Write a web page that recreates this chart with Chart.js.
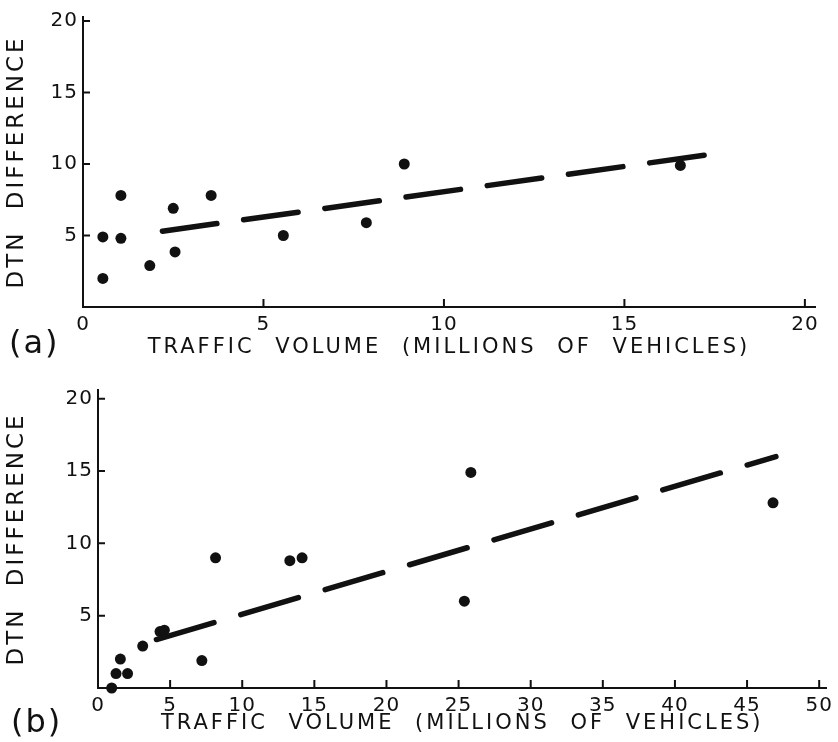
<!DOCTYPE html>
<html>
<head>
<meta charset="utf-8">
<script src="https://cdn.jsdelivr.net/npm/chart.js@4.4.1/dist/chart.umd.min.js"></script>
<style>
  body { margin: 0; background: #fff; }
  #wrap { position: relative; width: 838px; height: 742px; font-family: "DejaVu Sans", sans-serif; color: #111; }
  .panel { position: absolute; left: 0; }
  .tag { position: absolute; font-size: 32px; letter-spacing: 2px; line-height: 1; }
</style>
</head>
<body>
<div id="wrap">
  <canvas id="chartA" class="panel" style="top:0" width="838" height="370"></canvas>
  <canvas id="chartB" class="panel" style="top:370px" width="838" height="372"></canvas>
  <div class="tag" style="left:9px;top:326px">(a)</div>
  <div class="tag" style="left:11px;top:705px">(b)</div>
</div>
<script>
// panel (a)
const volumeA = [0.55, 0.55, 1.05, 1.05, 1.85, 2.5, 2.55, 3.55, 5.55, 7.85, 8.9, 16.55];
const diffA   = [4.9, 2.0, 7.8, 4.8, 2.9, 6.9, 3.85, 7.8, 5.0, 5.9, 10.0, 9.9];
const fitXA = [2.2, 17.45];
const fitYA = [5.3, 10.7];

// panel (b)
const volumeB = [0.95, 1.25, 1.55, 2.05, 3.1, 4.3, 4.6, 7.2, 8.15, 13.3, 14.15, 25.4, 25.85, 46.8];
const diffB   = [0, 1, 2, 1, 2.9, 3.9, 4.0, 1.9, 9, 8.8, 9, 6, 14.9, 12.8];
const fitXB = [4.05, 47.0];
const fitYB = [3.35, 16.0];

const yTicks = [0, 5, 10, 15, 20];
const xTicksA = [0, 5, 10, 15, 20];
const xTicksB = [0, 5, 10, 15, 20, 25, 30, 35, 40, 45, 50];

const INK = '#111';
Chart.defaults.font.family = '"DejaVu Sans", sans-serif';
Chart.defaults.color = INK;

const zip = (xs, ys) => xs.map((x, i) => ({ x: x, y: ys[i] }));

// tick marks drawn inward, like the original
const inwardTicks = {
    id: 'inwardTicks',
    beforeDatasetsDraw(chart) {
        const { ctx, chartArea, scales: { x, y } } = chart;
        ctx.save();
        ctx.strokeStyle = INK;
        ctx.lineWidth = 2;
        ctx.beginPath();
        x.ticks.forEach(t => {
            if (t.value === 0) return;
            const px = x.getPixelForValue(t.value);
            ctx.moveTo(px, chartArea.bottom);
            ctx.lineTo(px, chartArea.bottom - 8);
        });
        y.ticks.forEach(t => {
            if (t.value === 0) return;
            const py = y.getPixelForValue(t.value);
            ctx.moveTo(chartArea.left, py);
            ctx.lineTo(chartArea.left + 7, py);
        });
        ctx.stroke();
        ctx.restore();
    }
};

// titles are drawn before the datasets, tick labels (z: 1) after them
const spacing = {
    id: 'spacing',
    beforeDraw(chart) {
        chart.ctx.letterSpacing = '3px';
        chart.ctx.wordSpacing = '11px';
    },
    afterDatasetsDraw(chart) {
        chart.ctx.letterSpacing = '1px';
        chart.ctx.wordSpacing = '0px';
    }
};

function makeChart(id, o) {
    return new Chart(document.getElementById(id), {
        type: 'scatter',
        data: {
            datasets: [{
                type: 'line',
                data: zip(o.fitX, o.fitY),
                borderColor: INK,
                borderWidth: 5.5,
                borderDash: o.dash,
                borderCapStyle: 'round',
                pointRadius: 0,
                fill: false,
                clip: false
            }, {
                data: zip(o.vol, o.diff),
                pointRadius: 5.5,
                backgroundColor: INK,
                borderWidth: 0,
                clip: false
            }]
        },
        options: {
            responsive: false,
            animation: false,
            layout: { padding: { top: o.top, right: o.right, left: 0, bottom: 0 } },
            plugins: { legend: { display: false }, tooltip: { enabled: false } },
            scales: {
                x: {
                    type: 'linear',
                    min: 0,
                    max: o.xMax,
                    afterBuildTicks: s => { s.ticks = o.xTicks.map(v => ({ value: v })); },
                    afterFit: s => { s.height = o.xH; },
                    grid: { display: false, drawTicks: false },
                    border: { display: true, color: INK, width: 2 },
                    ticks: { z: 1, padding: 6, maxRotation: 0, autoSkip: false, font: { size: 20 }, color: INK },
                    title: {
                        display: true,
                        text: 'TRAFFIC VOLUME (MILLIONS OF VEHICLES)',
                        font: { size: 21 },
                        color: INK,
                        padding: { top: 0, bottom: o.titleB }
                    }
                },
                y: {
                    type: 'linear',
                    min: 0,
                    max: o.yMax,
                    afterBuildTicks: s => { s.ticks = yTicks.map(v => ({ value: v })); },
                    afterFit: s => { s.width = o.yW; },
                    grid: { display: false, drawTicks: false },
                    border: { display: true, color: INK, width: 2 },
                    ticks: {
                        z: 1,
                        padding: 5,
                        font: { size: 20 },
                        color: INK,
                        callback: v => v === 0 ? '' : v
                    },
                    title: {
                        display: true,
                        text: 'DTN DIFFERENCE',
                        font: { size: 23 },
                        color: INK,
                        padding: { top: 3, bottom: 0 }
                    }
                }
            }
        },
        plugins: [spacing, inwardTicks]
    });
}

makeChart('chartA', {
    vol: volumeA, diff: diffA, fitX: fitXA, fitY: fitYA, dash: [55, 27],
    xTicks: xTicksA, xMax: 20.28, yMax: 20.28,
    top: 15, right: 23, xH: 63, yW: 83, titleB: 10
});

makeChart('chartB', {
    vol: volumeB, diff: diffB, fitX: fitXB, fitY: fitYB, dash: [60, 28],
    xTicks: xTicksB, xMax: 50.5, yMax: 20.6,
    top: 20, right: 10, xH: 54, yW: 98, titleB: 6
});
</script>
</body>
</html>
